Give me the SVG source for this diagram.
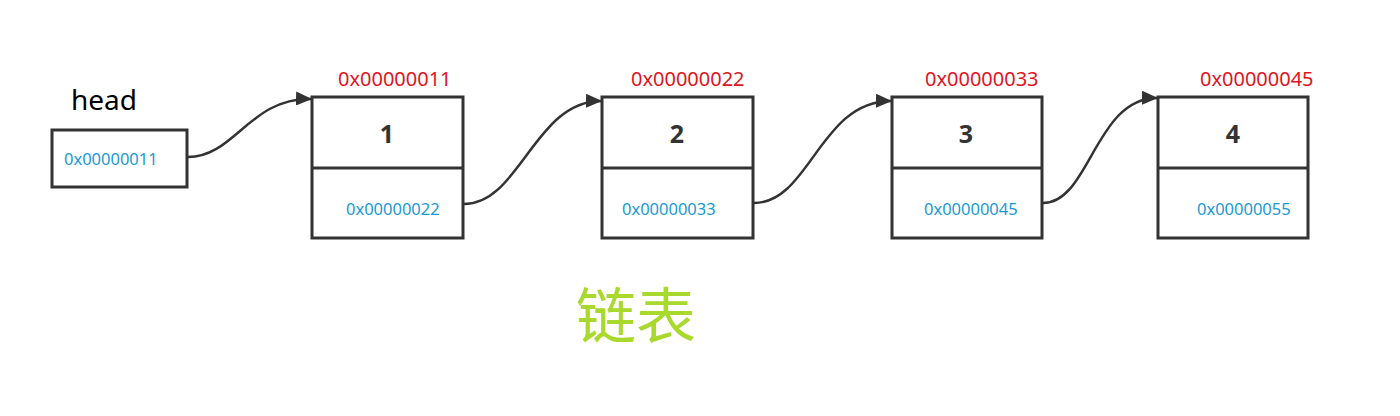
<svg xmlns="http://www.w3.org/2000/svg" width="1400" height="416" viewBox="0 0 1400 416">
<style>
.box{fill:#fff;stroke:#333;stroke-width:3}
.div{stroke:#333;stroke-width:3}
.conn{fill:none;stroke:#333;stroke-width:2.5}
.addr{font-family:"Noto Sans","Open Sans",sans-serif;font-size:20px;fill:#e0141e}
.ptr{font-family:"Noto Sans","Open Sans",sans-serif;font-size:16.5px;fill:#1a9ad6}
.num{font-family:"Noto Sans","Open Sans",sans-serif;font-size:25px;font-weight:bold;fill:#333;text-anchor:middle}
.lbl{font-family:"Noto Sans","Open Sans",sans-serif;font-size:28px;fill:#000}
.title{font-family:"Noto Sans CJK SC",sans-serif;font-size:60px;fill:#a8d92c}
</style>
<defs>
<marker id="ah" markerWidth="10" markerHeight="10" refX="9" refY="5" orient="auto" markerUnits="userSpaceOnUse" viewBox="0 0 10 10">
<path d="M0,0 L10,5 L0,10 z" fill="#333"/>
</marker>
<marker id="arr" markerWidth="16" markerHeight="14" refX="16" refY="7" orient="auto" markerUnits="userSpaceOnUse">
<path d="M0,0 L16,7 L0,14 z" fill="#333"/>
</marker>
</defs>
<text class="lbl" x="71" y="110">head</text>
<g id="head">
<rect class="box" x="52" y="130" width="135" height="57"/>
<text class="ptr" x="64" y="165">0x00000011</text>
</g>
<g id="node1">
<text class="addr" x="338" y="86">0x00000011</text>
<rect class="box" x="312" y="97" width="151" height="141"/>
<line class="div" x1="312" y1="168" x2="463" y2="168"/>
<text class="num" x="387" y="143">1</text>
<text class="ptr" x="346" y="215">0x00000022</text>
</g>
<g id="node2">
<text class="addr" x="631" y="86">0x00000022</text>
<rect class="box" x="602" y="97" width="151" height="141"/>
<line class="div" x1="602" y1="168" x2="753" y2="168"/>
<text class="num" x="677" y="143">2</text>
<text class="ptr" x="622" y="215">0x00000033</text>
</g>
<g id="node3">
<text class="addr" x="925" y="86">0x00000033</text>
<rect class="box" x="892" y="97" width="150" height="141"/>
<line class="div" x1="892" y1="168" x2="1042" y2="168"/>
<text class="num" x="966" y="143">3</text>
<text class="ptr" x="924" y="215">0x00000045</text>
</g>
<g id="node4">
<text class="addr" x="1200" y="86">0x00000045</text>
<rect class="box" x="1158" y="97" width="150" height="141"/>
<line class="div" x1="1158" y1="168" x2="1308" y2="168"/>
<text class="num" x="1233" y="143">4</text>
<text class="ptr" x="1197" y="215">0x00000055</text>
</g>
<g id="connectors">
<path class="conn" d="M188,157 C235,157 250,97 312,99" marker-end="url(#arr)"/>
<path class="conn" d="M464,204 C520,204 535,100 602,101" marker-end="url(#arr)"/>
<path class="conn" d="M754,203 C810,203 820,100 892,101" marker-end="url(#arr)"/>
<path class="conn" d="M1043,203 C1090,203 1095,97 1158,98" marker-end="url(#arr)"/>
</g>
<text class="title" x="576" y="338">链表</text>
</svg>
